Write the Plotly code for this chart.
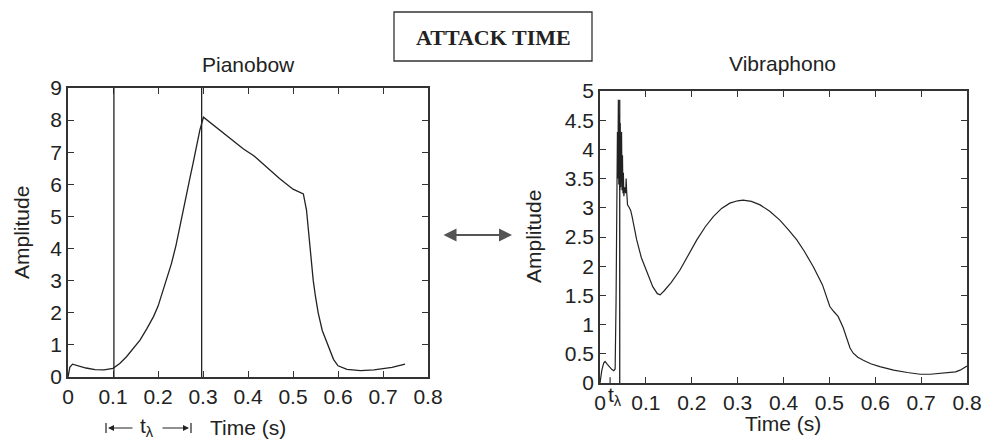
import plotly.graph_objects as go

# ---------------- data ----------------
piano_t = [0, 0.004, 0.01, 0.02, 0.04, 0.06, 0.08, 0.10, 0.115, 0.13, 0.145, 0.16, 0.175,
           0.19, 0.20, 0.212, 0.22, 0.23, 0.24, 0.249, 0.257, 0.264, 0.271, 0.278, 0.285,
           0.293, 0.301, 0.33, 0.36, 0.39, 0.412, 0.44, 0.47, 0.50, 0.523, 0.53, 0.534,
           0.54, 0.545, 0.55, 0.556, 0.565, 0.578, 0.59, 0.60, 0.62, 0.65, 0.68, 0.70,
           0.72, 0.749]
piano_a = [0, 0.3, 0.4, 0.36, 0.28, 0.23, 0.22, 0.27, 0.42, 0.63, 0.88, 1.15, 1.5,
           1.88, 2.2, 2.71, 3.08, 3.54, 4.1, 4.68, 5.2, 5.72, 6.2, 6.66, 7.15,
           7.69, 8.09, 7.76, 7.42, 7.1, 6.9, 6.55, 6.18, 5.85, 5.7, 5.2, 4.6,
           3.7, 3.0, 2.5, 2.0, 1.45, 0.95, 0.55, 0.35, 0.24, 0.2, 0.22, 0.26,
           0.3, 0.4]
piano_markers = [0.102, 0.297]

vibra_t = [0, 0.004, 0.008, 0.011, 0.016, 0.021, 0.026, 0.030, 0.033, 0.035, 0.036,
           0.037, 0.038, 0.039, 0.040, 0.041, 0.042, 0.043, 0.044, 0.045, 0.046, 0.047,
           0.048, 0.049, 0.050, 0.051, 0.052, 0.054, 0.056, 0.057, 0.058, 0.060, 0.064,
           0.067, 0.070, 0.073, 0.08, 0.09, 0.102, 0.115, 0.125, 0.131, 0.14, 0.155,
           0.174, 0.19, 0.211, 0.23, 0.247, 0.265, 0.283, 0.30, 0.312, 0.33, 0.349,
           0.37, 0.392, 0.41, 0.429, 0.445, 0.465, 0.485, 0.501, 0.51, 0.519, 0.53,
           0.538, 0.545, 0.552, 0.562, 0.574, 0.59, 0.61, 0.64, 0.67, 0.698, 0.72,
           0.756, 0.775, 0.785, 0.793, 0.8]
vibra_a = [0, 0.22, 0.34, 0.37, 0.32, 0.27, 0.23, 0.21, 0.24, 1.4, 2.6,
           3.6, 4.3, 3.5, 4.85, 3.4, 4.6, 3.3, 4.45, 3.35, 4.2, 4.3,
           3.3, 3.9, 3.25, 3.6, 3.2, 3.35, 3.25, 3.5, 3.3, 3.05, 3.0,
           2.95, 2.85, 2.72, 2.45, 2.15, 1.9, 1.65, 1.53, 1.51, 1.58, 1.72,
           1.93, 2.15, 2.45, 2.68, 2.85, 2.99, 3.08, 3.12, 3.13, 3.11, 3.05,
           2.94, 2.79, 2.63, 2.45, 2.26, 1.99, 1.68, 1.31, 1.22, 1.14, 0.95,
           0.74, 0.6, 0.51, 0.44, 0.39, 0.33, 0.28, 0.22, 0.18, 0.15, 0.15,
           0.17, 0.19, 0.22, 0.25, 0.29]
vibra_marker = 0.043
vibra_marker_top = 4.85
vibra_tlambda = 0.025

x_ticks = [0, 0.1, 0.2, 0.3, 0.4, 0.5, 0.6, 0.7, 0.8]
x_ticklabels = ["0", "0.1", "0.2", "0.3", "0.4", "0.5", "0.6", "0.7", "0.8"]
piano_yticks = [0, 1, 2, 3, 4, 5, 6, 7, 8, 9]
vibra_yticks = [0, 0.5, 1, 1.5, 2, 2.5, 3, 3.5, 4, 4.5, 5]
vibra_yticklabels = ["0", "0.5", "1", "1.5", "2", "2.5", "3", "3.5", "4", "4.5", "5"]

# ---------------- figure ----------------
W, H = 982, 439
FONT = "Liberation Sans, Arial, sans-serif"
FS = 21
LINE = "#222222"

def px(xp):
    return xp / W

def py(yp):
    return 1 - yp / H

fig = go.Figure()
fig.add_trace(go.Scatter(x=piano_t, y=piano_a, mode="lines",
                         line=dict(color=LINE, width=1.3), xaxis="x", yaxis="y",
                         showlegend=False, hoverinfo="skip"))
fig.add_trace(go.Scatter(x=vibra_t, y=vibra_a, mode="lines",
                         line=dict(color=LINE, width=1.2), xaxis="x2", yaxis="y2",
                         showlegend=False, hoverinfo="skip"))

axis_common = dict(showline=True, linecolor="#333333", linewidth=1.5, mirror="ticks",
                   ticks="inside", ticklen=6, tickwidth=1.2, tickcolor="#333333",
                   showgrid=False, zeroline=False, automargin=False,
                   tickfont=dict(family=FONT, size=FS, color="#222222"))

fig.update_layout(
    width=W, height=H,
    margin=dict(l=0, r=0, t=0, b=0, autoexpand=False),
    paper_bgcolor="white", plot_bgcolor="white",
    xaxis=dict(domain=[px(68), px(428)], range=[0, 0.8], tickvals=x_ticks,
               ticktext=x_ticklabels, anchor="y", **axis_common),
    yaxis=dict(domain=[py(377), py(88)], range=[0, 9], tickvals=piano_yticks,
               anchor="x", **axis_common),
    xaxis2=dict(domain=[px(600), px(967)], range=[0, 0.8], tickvals=x_ticks,
                ticktext=x_ticklabels, anchor="y2", **axis_common),
    yaxis2=dict(domain=[py(383), py(91)], range=[0, 5], tickvals=vibra_yticks,
                ticktext=vibra_yticklabels, anchor="x2", **axis_common),
)

# marker lines
for xm in piano_markers:
    fig.add_shape(type="line", xref="x", yref="y", x0=xm, x1=xm, y0=0, y1=9,
                  line=dict(color=LINE, width=1.3))
fig.add_shape(type="line", xref="x2", yref="y2", x0=vibra_marker, x1=vibra_marker,
              y0=-0.08, y1=vibra_marker_top, line=dict(color=LINE, width=1.3))
# t_lambda tick on vibraphono
fig.add_shape(type="line", xref="x2", yref="y2", x0=vibra_tlambda - 0.003, x1=vibra_tlambda - 0.003,
              y0=0, y1=0.1, line=dict(color="#333333", width=1.2))

ann = []
# title box
ann.append(dict(text="<b>ATTACK TIME</b>", x=px(493), y=py(37), xref="paper", yref="paper",
                showarrow=False, font=dict(family="Liberation Serif, Times New Roman, serif",
                                           size=22, color="#222222"),
                xanchor="center", yanchor="middle"))
fig.add_shape(type="rect", xref="paper", yref="paper", x0=px(394), x1=px(592),
              y0=py(61), y1=py(12), line=dict(color="#333333", width=1.3))

# subplot titles
ann.append(dict(text="Pianobow", x=px(248), y=py(65), xref="paper", yref="paper",
                showarrow=False, font=dict(family=FONT, size=FS, color="#222222"),
                xanchor="center", yanchor="middle"))
ann.append(dict(text="Vibraphono", x=px(782), y=py(64), xref="paper", yref="paper",
                showarrow=False, font=dict(family=FONT, size=FS, color="#222222"),
                xanchor="center", yanchor="middle"))
# y titles
ann.append(dict(text="Amplitude", x=px(21), y=py(233), xref="paper", yref="paper",
                showarrow=False, textangle=-90,
                font=dict(family=FONT, size=FS, color="#222222"),
                xanchor="center", yanchor="middle"))
ann.append(dict(text="Amplitude", x=px(533), y=py(237), xref="paper", yref="paper",
                showarrow=False, textangle=-90,
                font=dict(family=FONT, size=FS, color="#222222"),
                xanchor="center", yanchor="middle"))
# x titles
ann.append(dict(text="Time (s)", x=px(248), y=py(427), xref="paper", yref="paper",
                showarrow=False, font=dict(family=FONT, size=FS, color="#222222"),
                xanchor="center", yanchor="middle"))
ann.append(dict(text="Time (s)", x=px(783), y=py(423), xref="paper", yref="paper",
                showarrow=False, font=dict(family=FONT, size=FS, color="#222222"),
                xanchor="center", yanchor="middle"))
# t_lambda label on vibraphono axis
ann.append(dict(text="t<sub>λ</sub>", x=vibra_tlambda, y=py(396), xref="x2", yref="paper",
                showarrow=False, font=dict(family=FONT, size=FS, color="#222222"),
                xanchor="left", yanchor="middle", xshift=-5))
# t_lambda bracket under pianobow
ann.append(dict(text="t<sub>λ</sub>", x=px(147), y=py(427), xref="paper", yref="paper",
                showarrow=False, font=dict(family=FONT, size=FS, color="#222222"),
                xanchor="center", yanchor="middle"))
ann.append(dict(x=px(108), y=py(428), xref="paper", yref="paper", ax=26, ay=0,
                axref="pixel", ayref="pixel", showarrow=True, arrowhead=2, arrowsize=1,
                arrowwidth=1.2, arrowcolor="#222222", text=""))
ann.append(dict(x=px(189), y=py(428), xref="paper", yref="paper", ax=-28, ay=0,
                axref="pixel", ayref="pixel", showarrow=True, arrowhead=2, arrowsize=1,
                arrowwidth=1.2, arrowcolor="#222222", text=""))
fig.add_shape(type="line", xref="paper", yref="paper", x0=px(106), x1=px(106),
              y0=py(423), y1=py(433), line=dict(color="#222222", width=1.2))
fig.add_shape(type="line", xref="paper", yref="paper", x0=px(191), x1=px(191),
              y0=py(423), y1=py(433), line=dict(color="#222222", width=1.2))
# double arrow between plots
ann.append(dict(x=px(512), y=py(235), xref="paper", yref="paper", ax=-70, ay=0,
                axref="pixel", ayref="pixel", showarrow=True, arrowhead=2, arrowsize=1.3,
                arrowwidth=2, arrowcolor="#555555", arrowside="end+start", text=""))

fig.update_layout(annotations=ann)
fig.write_html("out.html", config={"displayModeBar": False},
               post_script="document.body.style.margin='0';document.body.style.overflow='hidden';")
